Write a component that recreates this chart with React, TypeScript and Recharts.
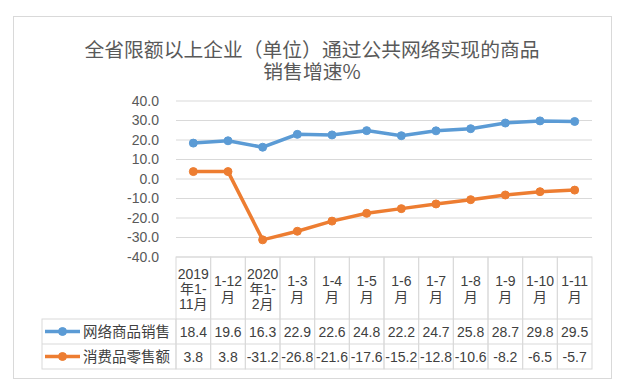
import React from 'react';
import { LineChart, Line, XAxis, YAxis, CartesianGrid } from 'recharts';

const categories = ['2019年1-11月', '1-12月', '2020年1-2月', '1-3月', '1-4月', '1-5月', '1-6月', '1-7月', '1-8月', '1-9月', '1-10月', '1-11月'];
const headerLines = [
  ['2019', '年1-', '11月'],
  ['1-12', '月'],
  ['2020', '年1-', '2月'],
  ['1-3', '月'],
  ['1-4', '月'],
  ['1-5', '月'],
  ['1-6', '月'],
  ['1-7', '月'],
  ['1-8', '月'],
  ['1-9', '月'],
  ['1-10', '月'],
  ['1-11', '月'],
];
const onlineSales = [18.4, 19.6, 16.3, 22.9, 22.6, 24.8, 22.2, 24.7, 25.8, 28.7, 29.8, 29.5];
const retailSales = [3.8, 3.8, -31.2, -26.8, -21.6, -17.6, -15.2, -12.8, -10.6, -8.2, -6.5, -5.7];
const yTicks = [-40, -30, -20, -10, 0, 10, 20, 30, 40];

const seriesNames = ['网络商品销售', '消费品零售额'];
const BLUE = '#5B9BD5';
const ORANGE = '#ED7D31';

const data = categories.map((name, i) => ({ name, online: onlineSales[i], retail: retailSales[i] }));

const W = 631;
const H = 390;
const PLOT_LEFT = 176;
const PLOT_RIGHT = 592;
const COL_W = (PLOT_RIGHT - PLOT_LEFT) / categories.length;
const HEAD_H = 62;
const ROW_H = 25;
const LEGEND_W = 134;
const FONT = '"Liberation Sans", "Noto Sans CJK SC", sans-serif';
const BORDER = '#d9d9d9';
const TEXT = '#404040';

function TableTick(props: any) {
  const { x, y, index } = props;
  const left = x - COL_W / 2;
  const lines = headerLines[index];
  const lh = 15.3;
  const cy = y + HEAD_H / 2 + 1;
  const start = cy - ((lines.length - 1) * lh) / 2;
  const r1 = y + HEAD_H;
  const r2 = r1 + ROW_H;
  return (
    <g fontFamily={FONT} fontSize={14} fill={TEXT}>
      <rect x={left} y={y} width={COL_W} height={HEAD_H + ROW_H * 2} fill="none" stroke={BORDER} />
      <line x1={left} x2={left + COL_W} y1={r1} y2={r1} stroke={BORDER} />
      <line x1={left} x2={left + COL_W} y1={r2} y2={r2} stroke={BORDER} />
      {lines.map((t: string, k: number) => (
        <text key={k} x={x} y={start + k * lh} textAnchor="middle" dominantBaseline="central" stroke="none">
          {t}
        </text>
      ))}
      <text x={x} y={r1 + ROW_H / 2} textAnchor="middle" dominantBaseline="central" stroke="none">
        {onlineSales[index].toFixed(1)}
      </text>
      <text x={x} y={r2 + ROW_H / 2} textAnchor="middle" dominantBaseline="central" stroke="none">
        {retailSales[index].toFixed(1)}
      </text>
      {index === 0 && (
        <g>
          <rect x={left - LEGEND_W} y={r1} width={LEGEND_W} height={ROW_H * 2} fill="none" stroke={BORDER} />
          <line x1={left - LEGEND_W} x2={left} y1={r2} y2={r2} stroke={BORDER} />
          {[BLUE, ORANGE].map((c, k) => {
            const ly = r1 + ROW_H * k + ROW_H / 2;
            const lx = left - LEGEND_W + 3;
            return (
              <g key={k}>
                <line x1={lx} x2={lx + 35} y1={ly} y2={ly} stroke={c} strokeWidth={3.5} />
                <circle cx={lx + 17.5} cy={ly} r={4} fill={c} stroke={c} />
                <text x={lx + 38} y={ly} dominantBaseline="central" stroke="none" fontSize={14.5}>
                  {seriesNames[k]}
                </text>
              </g>
            );
          })}
        </g>
      )}
    </g>
  );
}

export default function App() {
  return (
    <div style={{ position: 'absolute', left: 0, top: 0, width: W, height: H, background: '#fff' }}>
      <div
        style={{
          position: 'absolute',
          left: 13,
          top: 16,
          width: 597,
          height: 361,
          border: `1px solid ${BORDER}`,
        }}
      />
      <div
        style={{
          position: 'absolute',
          left: 13,
          top: 38,
          width: 598,
          textAlign: 'center',
          fontFamily: '"Noto Sans CJK SC", sans-serif',
          fontSize: 19.8,
          lineHeight: '22px',
          color: '#595959',
        }}
      >
        全省限额以上企业（单位）通过公共网络实现的商品
        <br />
        销售增速%
      </div>
      <div style={{ position: 'absolute', left: 0, top: 0 }}>
        <LineChart width={W} height={H} data={data} margin={{ top: 101, right: W - PLOT_RIGHT, left: 0, bottom: 22 }}>
          <CartesianGrid vertical={false} stroke={BORDER} />
          <XAxis
            dataKey="name"
            height={111}
            tickSize={0}
            tickMargin={0}
            axisLine={false}
            tickLine={false}
            interval={0}
            padding={{ left: COL_W / 2, right: COL_W / 2 }}
            tick={<TableTick />}
          />
          <YAxis
            width={PLOT_LEFT}
            domain={[-40, 40]}
            ticks={yTicks}
            interval={0}
            tickSize={0}
            tickMargin={17}
            axisLine={false}
            tickLine={false}
            tickFormatter={(v: number) => v.toFixed(1)}
            tick={{ fontSize: 14, fill: '#595959', fontFamily: FONT }}
          />
          <Line
            dataKey="online"
            stroke={BLUE}
            strokeWidth={3.5}
            dot={{ r: 4, fill: BLUE, stroke: BLUE, strokeWidth: 1 }}
            isAnimationActive={false}
          />
          <Line
            dataKey="retail"
            stroke={ORANGE}
            strokeWidth={3.5}
            dot={{ r: 4, fill: ORANGE, stroke: ORANGE, strokeWidth: 1 }}
            isAnimationActive={false}
          />
        </LineChart>
      </div>
    </div>
  );
}
